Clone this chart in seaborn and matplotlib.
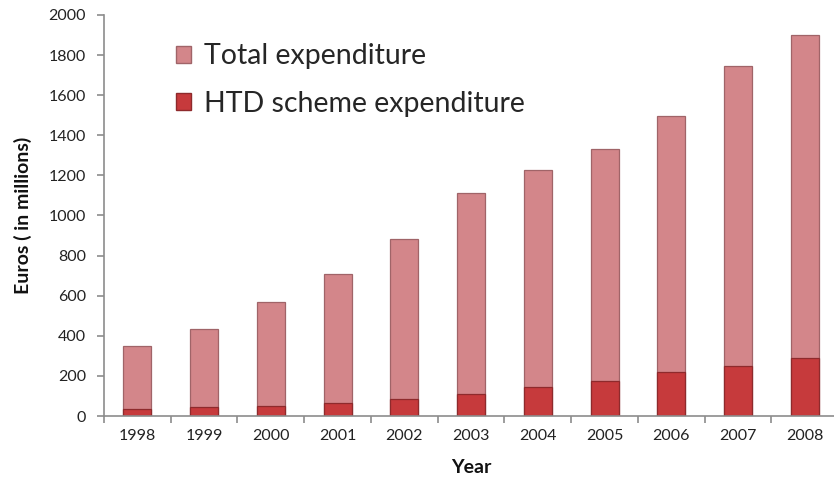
import matplotlib
matplotlib.use("Agg")
import matplotlib.pyplot as plt
import seaborn as sns
import pandas as pd
from matplotlib.patches import Patch
from matplotlib.ticker import FixedLocator

years = ["1998", "1999", "2000", "2001", "2002", "2003", "2004", "2005", "2006", "2007", "2008"]
total_exp = [350, 432, 567, 707, 882, 1110, 1225, 1330, 1495, 1745, 1900]
htd_exp = [35, 45, 48, 65, 85, 110, 145, 175, 217, 249, 287]

sns.set_theme(style="white")
plt.rcParams["font.family"] = ["Lato", "DejaVu Sans"]

df = pd.DataFrame({"Year": years, "Total": total_exp, "HTD": htd_exp})

fig = plt.figure(figsize=(8.34, 4.83), dpi=100)
ax = fig.add_axes([0.1247, 0.1387, 0.8753 + 0.005, 0.8303])

total_col = "#D3868A"
htd_col = "#C63A3C"
sns.barplot(data=df, x="Year", y="Total", color=total_col, width=0.42, ax=ax,
            saturation=1, edgecolor="#A06468", linewidth=0.9)
sns.barplot(data=df, x="Year", y="HTD", color=htd_col, width=0.42, ax=ax,
            saturation=1, edgecolor="#8E2A2C", linewidth=0.9)

ax.set_ylim(0, 2000)
ax.set_xlim(-0.5, 10.5)
ax.set_yticks(range(0, 2001, 200))
ax.xaxis.set_minor_locator(FixedLocator([i + 0.5 for i in range(-1, 11)]))

grey = "#8C8C8C"
for s in ["top", "right"]:
    ax.spines[s].set_visible(False)
for s in ["left", "bottom"]:
    ax.spines[s].set_color(grey)
    ax.spines[s].set_linewidth(1.2)

ax.tick_params(axis="y", which="major", direction="out", length=5, color=grey,
               width=1.2, left=True, labelsize=11.5, labelcolor="#222222", pad=8)
ax.tick_params(axis="x", which="major", length=0, labelsize=11.5, labelcolor="#222222", pad=9)
ax.tick_params(axis="x", which="minor", direction="out", length=5, color=grey,
               width=1.2, bottom=True)

ax.set_xlabel("Year", fontsize=14, fontweight="bold", color="#111111", labelpad=12)
ax.set_ylabel("Euros ( in millions)", fontsize=14, fontweight="bold", color="#111111", labelpad=12)

handles = [Patch(facecolor=total_col, edgecolor="#A06468", label="Total expenditure"),
           Patch(facecolor=htd_col, edgecolor="#8E2A2C", label="HTD scheme expenditure")]
ax.legend(handles=handles, loc="upper left", bbox_to_anchor=(0.082, 0.958), frameon=False,
          fontsize=20.5, handlelength=0.55, handleheight=0.55, handletextpad=0.45,
          labelspacing=0.75, borderaxespad=0)

fig.savefig("out.png", dpi=100)
